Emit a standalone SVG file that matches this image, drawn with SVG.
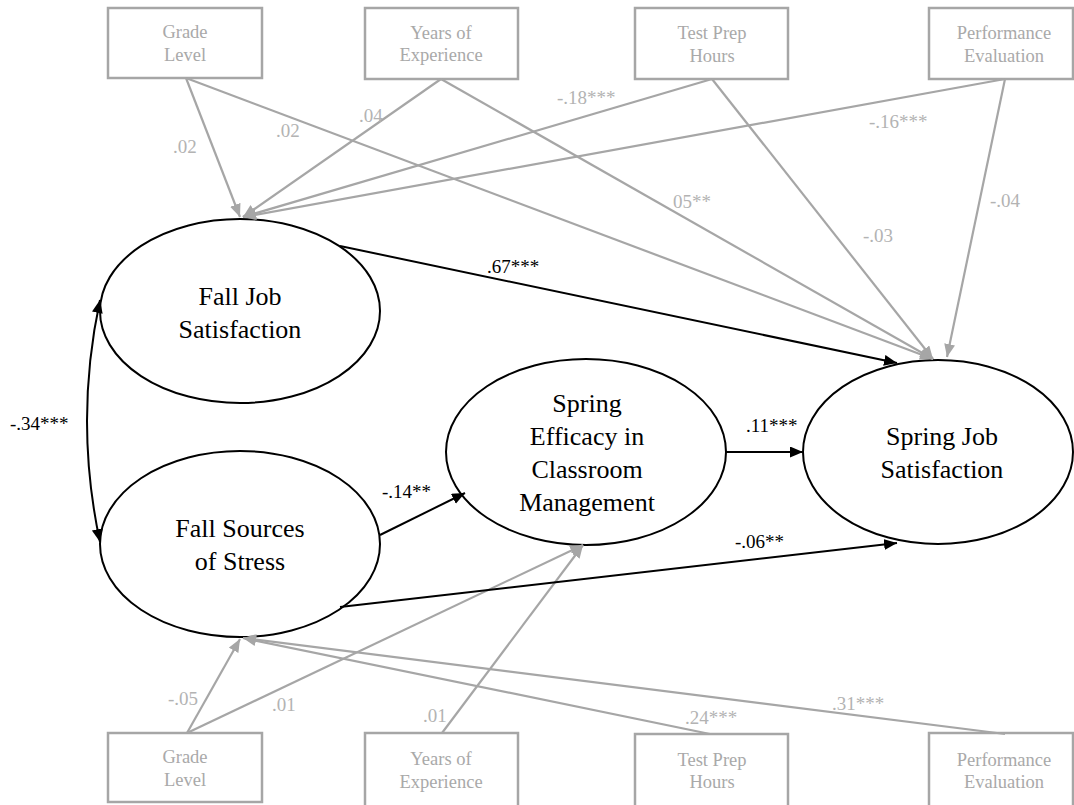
<svg xmlns="http://www.w3.org/2000/svg" width="1074" height="805" viewBox="0 0 1074 805">
<style>
.box{fill:#fff;stroke:#a6a6a6;stroke-width:2.5}
.bt{font-family:'Liberation Serif','Times New Roman',Tinos,'DejaVu Serif',serif;font-size:18.5px;fill:#a9a9a9;text-anchor:middle}
.ell{fill:#fff;stroke:#000;stroke-width:2}
.et{font-family:'Liberation Serif','Times New Roman',Tinos,'DejaVu Serif',serif;font-size:26px;fill:#000;text-anchor:middle}
.g{fill:none;stroke:#a6a6a6;stroke-width:2.2}
.k{fill:none;stroke:#000;stroke-width:2}
.gl{font-family:'Liberation Serif','Times New Roman',Tinos,'DejaVu Serif',serif;font-size:19px;fill:#b3b3b3}
.kl{font-family:'Liberation Serif','Times New Roman',Tinos,'DejaVu Serif',serif;font-size:19px;fill:#000}
</style>
<defs>
<marker id="ag" markerUnits="userSpaceOnUse" markerWidth="14" markerHeight="12" refX="13" refY="5.5" orient="auto"><path d="M0,0 L13,5.5 L0,11 z" fill="#a6a6a6"/></marker>
<marker id="ak" markerUnits="userSpaceOnUse" markerWidth="14" markerHeight="12" refX="13" refY="5.5" orient="auto"><path d="M0,0 L13,5.5 L0,11 z" fill="#000"/></marker>
<marker id="aks" markerUnits="userSpaceOnUse" markerWidth="14" markerHeight="12" refX="13" refY="5.5" orient="auto-start-reverse"><path d="M0,0 L13,5.5 L0,11 z" fill="#000"/></marker>
</defs>
<g id="nodes">
<g id="top-grade"><rect class="box" x="108" y="8" width="154" height="70"/><text class="bt" x="185" y="38">Grade</text><text class="bt" x="185" y="61">Level</text></g>
<g id="top-years"><rect class="box" x="365" y="8" width="153" height="71"/><text class="bt" x="441" y="39">Years of</text><text class="bt" x="441" y="61">Experience</text></g>
<g id="top-test"><rect class="box" x="635" y="8" width="153" height="71"/><text class="bt" x="712" y="39">Test Prep</text><text class="bt" x="712" y="62">Hours</text></g>
<g id="top-perf"><rect class="box" x="929" y="8" width="144" height="71"/><text class="bt" x="1004" y="39">Performance</text><text class="bt" x="1004" y="62">Evaluation</text></g>
<g id="bot-grade"><rect class="box" x="108" y="733" width="154" height="69"/><text class="bt" x="185" y="763">Grade</text><text class="bt" x="185" y="786">Level</text></g>
<g id="bot-years"><rect class="box" x="365" y="733" width="153" height="80"/><text class="bt" x="441" y="765">Years of</text><text class="bt" x="441" y="788">Experience</text></g>
<g id="bot-test"><rect class="box" x="635" y="734" width="153" height="80"/><text class="bt" x="712" y="766">Test Prep</text><text class="bt" x="712" y="788">Hours</text></g>
<g id="bot-perf"><rect class="box" x="929" y="733" width="144" height="80"/><text class="bt" x="1004" y="766">Performance</text><text class="bt" x="1004" y="788">Evaluation</text></g>
<g id="fall-job"><ellipse class="ell" cx="240" cy="311" rx="140" ry="92"/><text class="et" x="240" y="305">Fall Job</text><text class="et" x="240" y="338">Satisfaction</text></g>
<g id="fall-stress"><ellipse class="ell" cx="240" cy="544" rx="140" ry="93"/><text class="et" x="240" y="537">Fall Sources</text><text class="et" x="240" y="570">of Stress</text></g>
<g id="spring-eff"><ellipse class="ell" cx="586" cy="452" rx="140" ry="93"/><text class="et" x="587" y="412">Spring</text><text class="et" x="587" y="445">Efficacy in</text><text class="et" x="587" y="478">Classroom</text><text class="et" x="587" y="511">Management</text></g>
<g id="spring-job"><ellipse class="ell" cx="938" cy="452" rx="135" ry="92"/><text class="et" x="942" y="445">Spring Job</text><text class="et" x="942" y="478">Satisfaction</text></g>
</g>
<g id="connectors">
<line class="g" x1="186" y1="78" x2="240" y2="217" marker-end="url(#ag)"/>
<line class="g" x1="186" y1="78" x2="933" y2="359" marker-end="url(#ag)"/>
<line class="g" x1="441" y1="79" x2="243" y2="217" marker-end="url(#ag)"/>
<line class="g" x1="441" y1="79" x2="933" y2="359" marker-end="url(#ag)"/>
<line class="g" x1="712" y1="79" x2="243" y2="217" marker-end="url(#ag)"/>
<line class="g" x1="712" y1="79" x2="933" y2="359" marker-end="url(#ag)"/>
<line class="g" x1="1005" y1="79" x2="243" y2="217" marker-end="url(#ag)"/>
<line class="g" x1="1005" y1="79" x2="947" y2="357" marker-end="url(#ag)"/>
<line class="g" x1="187" y1="733" x2="240" y2="639" marker-end="url(#ag)"/>
<line class="g" x1="187" y1="733" x2="583" y2="545" marker-end="url(#ag)"/>
<line class="g" x1="442" y1="733" x2="583" y2="545" marker-end="url(#ag)"/>
<line class="g" x1="710" y1="734" x2="243" y2="638" marker-end="url(#ag)"/>
<line class="g" x1="1005" y1="734" x2="243" y2="638" marker-end="url(#ag)"/>
<line class="k" x1="340" y1="246" x2="897" y2="363" marker-end="url(#ak)"/>
<line class="k" x1="726" y1="452" x2="803" y2="452" marker-end="url(#ak)"/>
<line class="k" x1="380" y1="535" x2="465" y2="493" marker-end="url(#ak)"/>
<line class="k" x1="340" y1="607" x2="897" y2="543" marker-end="url(#ak)"/>
<path class="k" d="M100,300 Q74,421 100,542" marker-start="url(#aks)" marker-end="url(#aks)"/>
</g>
<g id="labels">
<text class="gl" x="173" y="153">.02</text>
<text class="gl" x="276" y="137">.02</text>
<text class="gl" x="359" y="122">.04</text>
<text class="gl" x="557" y="104">-.18***</text>
<text class="gl" x="869" y="128">-.16***</text>
<text class="gl" x="673" y="208">05**</text>
<text class="gl" x="863" y="242">-.03</text>
<text class="gl" x="990" y="207">-.04</text>
<text class="gl" x="168" y="705">-.05</text>
<text class="gl" x="272" y="711">.01</text>
<text class="gl" x="423" y="722">.01</text>
<text class="gl" x="685" y="724">.24***</text>
<text class="gl" x="832" y="710">.31***</text>
<text class="kl" x="487" y="273">.67***</text>
<text class="kl" x="746" y="432">.11***</text>
<text class="kl" x="382" y="498">-.14**</text>
<text class="kl" x="735" y="548">-.06**</text>
<text class="kl" x="10" y="430">-.34***</text>
</g>
</svg>
